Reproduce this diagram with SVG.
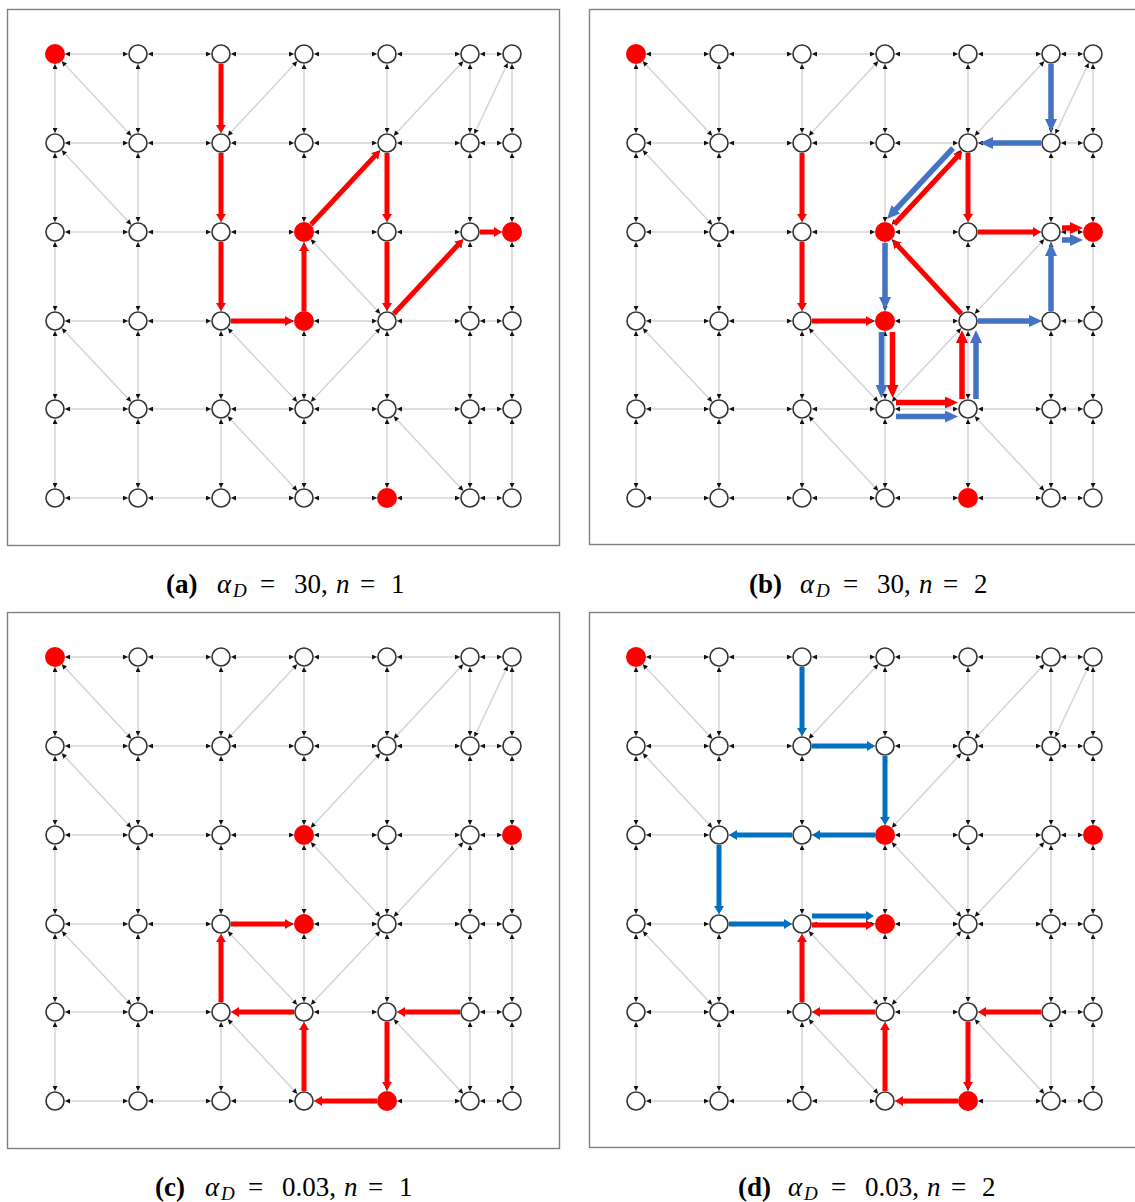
<svg xmlns="http://www.w3.org/2000/svg" xmlns:xlink="http://www.w3.org/1999/xlink" width="1135" height="1202" viewBox="0 0 1135 1202">
<style>
.box{fill:#fff;stroke:#808080;stroke-width:1.4}
#mesh line{stroke:#d4d4d4;stroke-width:1.5;marker-start:url(#tk);marker-end:url(#tk)}
.nodes circle{fill:#fff;stroke:#333;stroke-width:1.6}
.nodes circle.r{fill:#f00;stroke:none}
.ra{stroke:#f00;stroke-width:5;fill:none;marker-end:url(#hrs)}
.rb{stroke:#f00;stroke-width:5.5;fill:none;marker-end:url(#hrb)}
.bb{stroke:#4472c4;stroke-width:5.5;fill:none;marker-end:url(#hbb)}
.bd{stroke:#0070c0;stroke-width:5;fill:none;marker-end:url(#hbs)}
.cap{font-family:"Liberation Serif",serif;font-size:27px;fill:#000}
.b{font-weight:bold}
.i{font-style:italic}
.s{font-size:19px;font-style:italic}
</style>
<defs>
<marker id="tk" viewBox="0 0 5 5" refX="5" refY="2.5" markerWidth="5" markerHeight="5" markerUnits="userSpaceOnUse" orient="auto-start-reverse"><path d="M0,0L5,2.5L0,5z" fill="#111"/></marker>
<marker id="hrs" viewBox="0 0 8 10" refX="2" refY="5" markerWidth="8" markerHeight="10" markerUnits="userSpaceOnUse" orient="auto"><path d="M0,0L8,5L0,10z" fill="#f00"/></marker>
<marker id="hbs" viewBox="0 0 8 10" refX="2" refY="5" markerWidth="8" markerHeight="10" markerUnits="userSpaceOnUse" orient="auto"><path d="M0,0L8,5L0,10z" fill="#0070c0"/></marker>
<marker id="hrb" viewBox="0 0 13 12" refX="1" refY="6" markerWidth="13" markerHeight="12" markerUnits="userSpaceOnUse" orient="auto"><path d="M0,0L13,6L0,12z" fill="#f00"/></marker>
<marker id="hbb" viewBox="0 0 13 12" refX="1" refY="6" markerWidth="13" markerHeight="12" markerUnits="userSpaceOnUse" orient="auto"><path d="M0,0L13,6L0,12z" fill="#4472c4"/></marker>
<g id="mesh">
<line x1="10" y1="0" x2="73" y2="0"/><line x1="93" y1="0" x2="156" y2="0"/><line x1="176" y1="0" x2="239" y2="0"/><line x1="259" y1="0" x2="322" y2="0"/><line x1="342" y1="0" x2="405" y2="0"/><line x1="425" y1="0" x2="447" y2="0"/>
<line x1="10" y1="89" x2="73" y2="89"/><line x1="93" y1="89" x2="156" y2="89"/><line x1="176" y1="89" x2="239" y2="89"/><line x1="259" y1="89" x2="322" y2="89"/><line x1="342" y1="89" x2="405" y2="89"/><line x1="425" y1="89" x2="447" y2="89"/>
<line x1="10" y1="178" x2="73" y2="178"/><line x1="93" y1="178" x2="156" y2="178"/><line x1="176" y1="178" x2="239" y2="178"/><line x1="259" y1="178" x2="322" y2="178"/><line x1="342" y1="178" x2="405" y2="178"/><line x1="425" y1="178" x2="447" y2="178"/>
<line x1="10" y1="267" x2="73" y2="267"/><line x1="93" y1="267" x2="156" y2="267"/><line x1="176" y1="267" x2="239" y2="267"/><line x1="259" y1="267" x2="322" y2="267"/><line x1="342" y1="267" x2="405" y2="267"/><line x1="425" y1="267" x2="447" y2="267"/>
<line x1="10" y1="355" x2="73" y2="355"/><line x1="93" y1="355" x2="156" y2="355"/><line x1="176" y1="355" x2="239" y2="355"/><line x1="259" y1="355" x2="322" y2="355"/><line x1="342" y1="355" x2="405" y2="355"/><line x1="425" y1="355" x2="447" y2="355"/>
<line x1="10" y1="444" x2="73" y2="444"/><line x1="93" y1="444" x2="156" y2="444"/><line x1="176" y1="444" x2="239" y2="444"/><line x1="259" y1="444" x2="322" y2="444"/><line x1="342" y1="444" x2="405" y2="444"/><line x1="425" y1="444" x2="447" y2="444"/>
<line x1="0" y1="10" x2="0" y2="79"/><line x1="0" y1="99" x2="0" y2="168"/><line x1="0" y1="188" x2="0" y2="257"/><line x1="0" y1="277" x2="0" y2="345"/><line x1="0" y1="365" x2="0" y2="434"/>
<line x1="83" y1="10" x2="83" y2="79"/><line x1="83" y1="99" x2="83" y2="168"/><line x1="83" y1="188" x2="83" y2="257"/><line x1="83" y1="277" x2="83" y2="345"/><line x1="83" y1="365" x2="83" y2="434"/>
<line x1="166" y1="10" x2="166" y2="79"/><line x1="166" y1="99" x2="166" y2="168"/><line x1="166" y1="188" x2="166" y2="257"/><line x1="166" y1="277" x2="166" y2="345"/><line x1="166" y1="365" x2="166" y2="434"/>
<line x1="249" y1="10" x2="249" y2="79"/><line x1="249" y1="99" x2="249" y2="168"/><line x1="249" y1="188" x2="249" y2="257"/><line x1="249" y1="277" x2="249" y2="345"/><line x1="249" y1="365" x2="249" y2="434"/>
<line x1="332" y1="10" x2="332" y2="79"/><line x1="332" y1="99" x2="332" y2="168"/><line x1="332" y1="188" x2="332" y2="257"/><line x1="332" y1="277" x2="332" y2="345"/><line x1="332" y1="365" x2="332" y2="434"/>
<line x1="415" y1="10" x2="415" y2="79"/><line x1="415" y1="99" x2="415" y2="168"/><line x1="415" y1="188" x2="415" y2="257"/><line x1="415" y1="277" x2="415" y2="345"/><line x1="415" y1="365" x2="415" y2="434"/>
<line x1="457" y1="10" x2="457" y2="79"/><line x1="457" y1="99" x2="457" y2="168"/><line x1="457" y1="188" x2="457" y2="257"/><line x1="457" y1="277" x2="457" y2="345"/><line x1="457" y1="365" x2="457" y2="434"/>
<line x1="6.8" y1="7.3" x2="76.2" y2="81.7"/>
<line x1="242.2" y1="7.3" x2="172.8" y2="81.7"/>
<line x1="408.2" y1="7.3" x2="338.8" y2="81.7"/>
<line x1="452.7" y1="9" x2="419.3" y2="80"/>
<line x1="6.8" y1="96.3" x2="76.2" y2="170.7"/>
<line x1="325.2" y1="96.3" x2="255.8" y2="170.7"/>
<line x1="255.8" y1="185.3" x2="325.2" y2="259.7"/>
<line x1="338.8" y1="259.7" x2="408.2" y2="185.3"/>
<line x1="325.1" y1="274.3" x2="255.9" y2="347.7"/>
<line x1="172.9" y1="274.3" x2="242.1" y2="347.7"/>
<line x1="6.9" y1="274.3" x2="76.1" y2="347.7"/>
<line x1="172.8" y1="362.3" x2="242.2" y2="436.7"/>
<line x1="338.8" y1="362.3" x2="408.2" y2="436.7"/>
</g>
</defs>

<g id="frames">
<rect class="box" x="7.5" y="9.5" width="552" height="536"/>
<rect class="box" x="589.5" y="9.5" width="552" height="535"/>
<rect class="box" x="7.5" y="612.5" width="552" height="536"/>
<rect class="box" x="589.5" y="612.5" width="552" height="535"/>
</g>

<g id="connectors">
<g id="conn-a" transform="translate(55,54)">
<use xlink:href="#mesh" href="#mesh"/>
<path class="ra" d="M166,10V73"/>
<path class="ra" d="M166,99V162"/>
<path class="ra" d="M166,188V251"/>
<path class="ra" d="M176,267H232"/>
<path class="ra" d="M249,257V195"/>
<path class="ra" d="M256,170.5L320.9,100.9"/>
<path class="ra" d="M332,99V162"/>
<path class="ra" d="M332,188V251"/>
<path class="ra" d="M338.8,259.7L404.1,189.7"/>
<path class="ra" d="M425,178H441"/>
</g>
<g id="conn-b" transform="translate(636,54)">
<use xlink:href="#mesh" href="#mesh"/>
<path class="ra" d="M166,99V162"/>
<path class="ra" d="M166,188V251"/>
<path class="ra" d="M176,267H232"/>
<path class="ra" d="M332,99V162"/>
<path class="ra" d="M342,178H399"/>
<path class="ra" d="M325.2,259.7L260.6,190.4"/>
<path class="ra" d="M258.3,170.2L322.2,101.7"/>
<path class="rb" d="M256.5,278V332"/>
<path class="rb" d="M260,348.5H310"/>
<path class="rb" d="M326,345V288"/>
<path class="rb" d="M426,174H435"/>
<path class="bb" d="M415,10V66"/>
<path class="bb" d="M405,89H356"/>
<path class="bb" d="M317,94.1L259.2,156.1"/>
<path class="bb" d="M249,189V244"/>
<path class="bb" d="M245.5,278V332"/>
<path class="bb" d="M260,362.5H310"/>
<path class="bb" d="M340,345V288"/>
<path class="bb" d="M342,267H394"/>
<path class="bb" d="M415,257V201"/>
<path class="bb" d="M426,186H435"/>
</g>
<g id="conn-c" transform="translate(55,657)">
<use xlink:href="#mesh" href="#mesh"/>
<path class="ra" d="M405,355H348"/>
<path class="ra" d="M332,365V427"/>
<path class="ra" d="M322,444H265"/>
<path class="ra" d="M249,434V371"/>
<path class="ra" d="M239,355H182"/>
<path class="ra" d="M166,345V283"/>
<path class="ra" d="M176,267H232"/>
</g>
<g id="conn-d" transform="translate(636,657)">
<use xlink:href="#mesh" href="#mesh"/>
<path class="ra" d="M405,355H348"/>
<path class="ra" d="M332,365V427"/>
<path class="ra" d="M322,444H265"/>
<path class="ra" d="M249,434V371"/>
<path class="ra" d="M239,355H182"/>
<path class="ra" d="M166,345V283"/>
<path class="ra" d="M176,268H232"/>
<path class="bd" d="M166,10V73"/>
<path class="bd" d="M176,89H233"/>
<path class="bd" d="M249,99V162"/>
<path class="bd" d="M239,178H182"/>
<path class="bd" d="M156,178H99"/>
<path class="bd" d="M83,188V251"/>
<path class="bd" d="M93,267H150"/>
<path class="bd" d="M176,259H232"/>
</g>
</g>

<g id="nodes-a" class="nodes" transform="translate(55,54)">
<g id="a00"><circle class="r" cx="0" cy="0" r="10"/></g><g id="a10"><circle cx="83" cy="0" r="9"/></g><g id="a20"><circle cx="166" cy="0" r="9"/></g><g id="a30"><circle cx="249" cy="0" r="9"/></g><g id="a40"><circle cx="332" cy="0" r="9"/></g><g id="a50"><circle cx="415" cy="0" r="9"/></g><g id="a60"><circle cx="457" cy="0" r="9"/></g>
<g id="a01"><circle cx="0" cy="89" r="9"/></g><g id="a11"><circle cx="83" cy="89" r="9"/></g><g id="a21"><circle cx="166" cy="89" r="9"/></g><g id="a31"><circle cx="249" cy="89" r="9"/></g><g id="a41"><circle cx="332" cy="89" r="9"/></g><g id="a51"><circle cx="415" cy="89" r="9"/></g><g id="a61"><circle cx="457" cy="89" r="9"/></g>
<g id="a02"><circle cx="0" cy="178" r="9"/></g><g id="a12"><circle cx="83" cy="178" r="9"/></g><g id="a22"><circle cx="166" cy="178" r="9"/></g><g id="a32"><circle class="r" cx="249" cy="178" r="10"/></g><g id="a42"><circle cx="332" cy="178" r="9"/></g><g id="a52"><circle cx="415" cy="178" r="9"/></g><g id="a62"><circle class="r" cx="457" cy="178" r="10"/></g>
<g id="a03"><circle cx="0" cy="267" r="9"/></g><g id="a13"><circle cx="83" cy="267" r="9"/></g><g id="a23"><circle cx="166" cy="267" r="9"/></g><g id="a33"><circle class="r" cx="249" cy="267" r="10"/></g><g id="a43"><circle cx="332" cy="267" r="9"/></g><g id="a53"><circle cx="415" cy="267" r="9"/></g><g id="a63"><circle cx="457" cy="267" r="9"/></g>
<g id="a04"><circle cx="0" cy="355" r="9"/></g><g id="a14"><circle cx="83" cy="355" r="9"/></g><g id="a24"><circle cx="166" cy="355" r="9"/></g><g id="a34"><circle cx="249" cy="355" r="9"/></g><g id="a44"><circle cx="332" cy="355" r="9"/></g><g id="a54"><circle cx="415" cy="355" r="9"/></g><g id="a64"><circle cx="457" cy="355" r="9"/></g>
<g id="a05"><circle cx="0" cy="444" r="9"/></g><g id="a15"><circle cx="83" cy="444" r="9"/></g><g id="a25"><circle cx="166" cy="444" r="9"/></g><g id="a35"><circle cx="249" cy="444" r="9"/></g><g id="a45"><circle class="r" cx="332" cy="444" r="10"/></g><g id="a55"><circle cx="415" cy="444" r="9"/></g><g id="a65"><circle cx="457" cy="444" r="9"/></g>
</g>

<g id="nodes-b" class="nodes" transform="translate(636,54)">
<g id="b00"><circle class="r" cx="0" cy="0" r="10"/></g><g id="b10"><circle cx="83" cy="0" r="9"/></g><g id="b20"><circle cx="166" cy="0" r="9"/></g><g id="b30"><circle cx="249" cy="0" r="9"/></g><g id="b40"><circle cx="332" cy="0" r="9"/></g><g id="b50"><circle cx="415" cy="0" r="9"/></g><g id="b60"><circle cx="457" cy="0" r="9"/></g>
<g id="b01"><circle cx="0" cy="89" r="9"/></g><g id="b11"><circle cx="83" cy="89" r="9"/></g><g id="b21"><circle cx="166" cy="89" r="9"/></g><g id="b31"><circle cx="249" cy="89" r="9"/></g><g id="b41"><circle cx="332" cy="89" r="9"/></g><g id="b51"><circle cx="415" cy="89" r="9"/></g><g id="b61"><circle cx="457" cy="89" r="9"/></g>
<g id="b02"><circle cx="0" cy="178" r="9"/></g><g id="b12"><circle cx="83" cy="178" r="9"/></g><g id="b22"><circle cx="166" cy="178" r="9"/></g><g id="b32"><circle class="r" cx="249" cy="178" r="10"/></g><g id="b42"><circle cx="332" cy="178" r="9"/></g><g id="b52"><circle cx="415" cy="178" r="9"/></g><g id="b62"><circle class="r" cx="457" cy="178" r="10"/></g>
<g id="b03"><circle cx="0" cy="267" r="9"/></g><g id="b13"><circle cx="83" cy="267" r="9"/></g><g id="b23"><circle cx="166" cy="267" r="9"/></g><g id="b33"><circle class="r" cx="249" cy="267" r="10"/></g><g id="b43"><circle cx="332" cy="267" r="9"/></g><g id="b53"><circle cx="415" cy="267" r="9"/></g><g id="b63"><circle cx="457" cy="267" r="9"/></g>
<g id="b04"><circle cx="0" cy="355" r="9"/></g><g id="b14"><circle cx="83" cy="355" r="9"/></g><g id="b24"><circle cx="166" cy="355" r="9"/></g><g id="b34"><circle cx="249" cy="355" r="9"/></g><g id="b44"><circle cx="332" cy="355" r="9"/></g><g id="b54"><circle cx="415" cy="355" r="9"/></g><g id="b64"><circle cx="457" cy="355" r="9"/></g>
<g id="b05"><circle cx="0" cy="444" r="9"/></g><g id="b15"><circle cx="83" cy="444" r="9"/></g><g id="b25"><circle cx="166" cy="444" r="9"/></g><g id="b35"><circle cx="249" cy="444" r="9"/></g><g id="b45"><circle class="r" cx="332" cy="444" r="10"/></g><g id="b55"><circle cx="415" cy="444" r="9"/></g><g id="b65"><circle cx="457" cy="444" r="9"/></g>
</g>

<g id="nodes-c" class="nodes" transform="translate(55,657)">
<g id="c00"><circle class="r" cx="0" cy="0" r="10"/></g><g id="c10"><circle cx="83" cy="0" r="9"/></g><g id="c20"><circle cx="166" cy="0" r="9"/></g><g id="c30"><circle cx="249" cy="0" r="9"/></g><g id="c40"><circle cx="332" cy="0" r="9"/></g><g id="c50"><circle cx="415" cy="0" r="9"/></g><g id="c60"><circle cx="457" cy="0" r="9"/></g>
<g id="c01"><circle cx="0" cy="89" r="9"/></g><g id="c11"><circle cx="83" cy="89" r="9"/></g><g id="c21"><circle cx="166" cy="89" r="9"/></g><g id="c31"><circle cx="249" cy="89" r="9"/></g><g id="c41"><circle cx="332" cy="89" r="9"/></g><g id="c51"><circle cx="415" cy="89" r="9"/></g><g id="c61"><circle cx="457" cy="89" r="9"/></g>
<g id="c02"><circle cx="0" cy="178" r="9"/></g><g id="c12"><circle cx="83" cy="178" r="9"/></g><g id="c22"><circle cx="166" cy="178" r="9"/></g><g id="c32"><circle class="r" cx="249" cy="178" r="10"/></g><g id="c42"><circle cx="332" cy="178" r="9"/></g><g id="c52"><circle cx="415" cy="178" r="9"/></g><g id="c62"><circle class="r" cx="457" cy="178" r="10"/></g>
<g id="c03"><circle cx="0" cy="267" r="9"/></g><g id="c13"><circle cx="83" cy="267" r="9"/></g><g id="c23"><circle cx="166" cy="267" r="9"/></g><g id="c33"><circle class="r" cx="249" cy="267" r="10"/></g><g id="c43"><circle cx="332" cy="267" r="9"/></g><g id="c53"><circle cx="415" cy="267" r="9"/></g><g id="c63"><circle cx="457" cy="267" r="9"/></g>
<g id="c04"><circle cx="0" cy="355" r="9"/></g><g id="c14"><circle cx="83" cy="355" r="9"/></g><g id="c24"><circle cx="166" cy="355" r="9"/></g><g id="c34"><circle cx="249" cy="355" r="9"/></g><g id="c44"><circle cx="332" cy="355" r="9"/></g><g id="c54"><circle cx="415" cy="355" r="9"/></g><g id="c64"><circle cx="457" cy="355" r="9"/></g>
<g id="c05"><circle cx="0" cy="444" r="9"/></g><g id="c15"><circle cx="83" cy="444" r="9"/></g><g id="c25"><circle cx="166" cy="444" r="9"/></g><g id="c35"><circle cx="249" cy="444" r="9"/></g><g id="c45"><circle class="r" cx="332" cy="444" r="10"/></g><g id="c55"><circle cx="415" cy="444" r="9"/></g><g id="c65"><circle cx="457" cy="444" r="9"/></g>
</g>

<g id="nodes-d" class="nodes" transform="translate(636,657)">
<g id="d00"><circle class="r" cx="0" cy="0" r="10"/></g><g id="d10"><circle cx="83" cy="0" r="9"/></g><g id="d20"><circle cx="166" cy="0" r="9"/></g><g id="d30"><circle cx="249" cy="0" r="9"/></g><g id="d40"><circle cx="332" cy="0" r="9"/></g><g id="d50"><circle cx="415" cy="0" r="9"/></g><g id="d60"><circle cx="457" cy="0" r="9"/></g>
<g id="d01"><circle cx="0" cy="89" r="9"/></g><g id="d11"><circle cx="83" cy="89" r="9"/></g><g id="d21"><circle cx="166" cy="89" r="9"/></g><g id="d31"><circle cx="249" cy="89" r="9"/></g><g id="d41"><circle cx="332" cy="89" r="9"/></g><g id="d51"><circle cx="415" cy="89" r="9"/></g><g id="d61"><circle cx="457" cy="89" r="9"/></g>
<g id="d02"><circle cx="0" cy="178" r="9"/></g><g id="d12"><circle cx="83" cy="178" r="9"/></g><g id="d22"><circle cx="166" cy="178" r="9"/></g><g id="d32"><circle class="r" cx="249" cy="178" r="10"/></g><g id="d42"><circle cx="332" cy="178" r="9"/></g><g id="d52"><circle cx="415" cy="178" r="9"/></g><g id="d62"><circle class="r" cx="457" cy="178" r="10"/></g>
<g id="d03"><circle cx="0" cy="267" r="9"/></g><g id="d13"><circle cx="83" cy="267" r="9"/></g><g id="d23"><circle cx="166" cy="267" r="9"/></g><g id="d33"><circle class="r" cx="249" cy="267" r="10"/></g><g id="d43"><circle cx="332" cy="267" r="9"/></g><g id="d53"><circle cx="415" cy="267" r="9"/></g><g id="d63"><circle cx="457" cy="267" r="9"/></g>
<g id="d04"><circle cx="0" cy="355" r="9"/></g><g id="d14"><circle cx="83" cy="355" r="9"/></g><g id="d24"><circle cx="166" cy="355" r="9"/></g><g id="d34"><circle cx="249" cy="355" r="9"/></g><g id="d44"><circle cx="332" cy="355" r="9"/></g><g id="d54"><circle cx="415" cy="355" r="9"/></g><g id="d64"><circle cx="457" cy="355" r="9"/></g>
<g id="d05"><circle cx="0" cy="444" r="9"/></g><g id="d15"><circle cx="83" cy="444" r="9"/></g><g id="d25"><circle cx="166" cy="444" r="9"/></g><g id="d35"><circle cx="249" cy="444" r="9"/></g><g id="d45"><circle class="r" cx="332" cy="444" r="10"/></g><g id="d55"><circle cx="415" cy="444" r="9"/></g><g id="d65"><circle cx="457" cy="444" r="9"/></g>
</g>

<g id="captions">
<text class="cap" y="593"><tspan class="b" x="166">(a)</tspan><tspan class="i" x="217">α</tspan><tspan class="s" x="233" dy="4">D</tspan><tspan x="260" dy="-4">=</tspan><tspan x="294">30,</tspan><tspan class="i" x="336">n</tspan><tspan x="360">=</tspan><tspan x="391">1</tspan></text>
<text class="cap" y="593"><tspan class="b" x="749">(b)</tspan><tspan class="i" x="800">α</tspan><tspan class="s" x="816" dy="4">D</tspan><tspan x="843" dy="-4">=</tspan><tspan x="877">30,</tspan><tspan class="i" x="919">n</tspan><tspan x="943">=</tspan><tspan x="974">2</tspan></text>
<text class="cap" y="1196"><tspan class="b" x="155">(c)</tspan><tspan class="i" x="205">α</tspan><tspan class="s" x="221" dy="4">D</tspan><tspan x="248" dy="-4">=</tspan><tspan x="282">0.03,</tspan><tspan class="i" x="344">n</tspan><tspan x="368">=</tspan><tspan x="399">1</tspan></text>
<text class="cap" y="1196"><tspan class="b" x="738">(d)</tspan><tspan class="i" x="788">α</tspan><tspan class="s" x="804" dy="4">D</tspan><tspan x="831" dy="-4">=</tspan><tspan x="865">0.03,</tspan><tspan class="i" x="927">n</tspan><tspan x="951">=</tspan><tspan x="982">2</tspan></text>
</g>
</svg>
